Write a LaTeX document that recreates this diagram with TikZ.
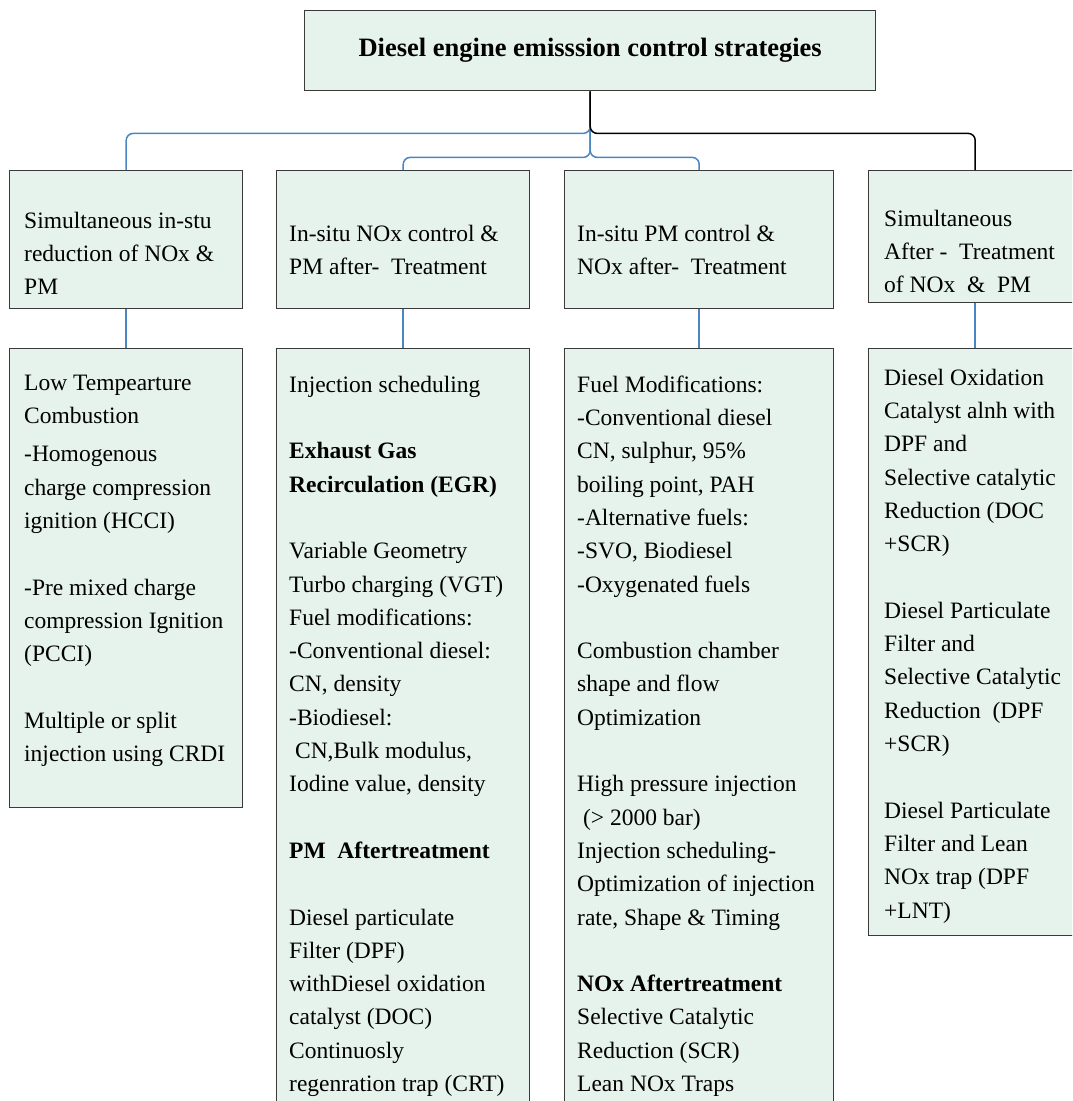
\documentclass[tikz,border=0pt]{standalone}
\usepackage{fontspec}
\setmainfont{Liberation Serif}
\definecolor{boxfill}{HTML}{E6F2EC}
\definecolor{boxline}{HTML}{3A3A3A}
\definecolor{conblue}{HTML}{4A86C0}
\begin{document}
\begin{tikzpicture}[x=1pt,y=-1pt,
  box/.style={draw=boxline, fill=boxfill, line width=1.4pt, rectangle, inner sep=0pt, anchor=north west},
  txt/.style={anchor=north west, align=left, inner sep=0pt, font=\fontsize{23.5}{33.3}\selectfont},
  con/.style={draw=conblue, line width=1.5pt, rounded corners=7pt},
  conk/.style={draw=black, line width=1.5pt, rounded corners=7pt}]
\clip (0,0) rectangle (1072,1101);
% top
\node[box, minimum width=571pt, minimum height=80pt, font=\fontsize{26.5}{30}\selectfont\bfseries] (top) at (304,10) {Diesel engine emisssion control strategies};
% level 1
\node[box, minimum width=233pt, minimum height=138pt] (a1) at (9,170) {};
\node[box, minimum width=253pt, minimum height=138pt] (b1) at (276,170) {};
\node[box, minimum width=269pt, minimum height=138pt] (c1) at (564,170) {};
\node[box, minimum width=213pt, minimum height=132pt] (d1) at (868,170) {};
% level 2
\node[box, minimum width=233pt, minimum height=459pt] (a2) at (9,348) {};
\node[box, minimum width=253pt, minimum height=800pt] (b2) at (276,348) {};
\node[box, minimum width=269pt, minimum height=800pt] (c2) at (564,348) {};
\node[box, minimum width=213pt, minimum height=587pt] (d2) at (868,348) {};
% connectors
\draw[con] (top.south) -- ++(0,42) -| (a1.north);
\draw[con] (top.south) -- ++(0,66) -| (b1.north);
\draw[con] (top.south) -- ++(0,66) -| (c1.north);
\draw[conk] (top.south) -- ++(0,42) -| (d1.north);
\draw[con] (a1.south) -- (a2.north);
\draw[con] (b1.south) -- (b2.north);
\draw[con] (c1.south) -- (c2.north);
\draw[con] (d1.south) -- (d2.north);
% level 1 texts
\node[txt] (ta1) at (24,204.7) {\strut Simultaneous in-stu\\reduction of NOx \&\\PM};
\node[txt] (tb1) at (289,217.7) {\strut In-situ NOx control \&\\PM after-\ \ Treatment};
\node[txt] (tc1) at (577,217.7) {\strut In-situ PM control \&\\NOx after-\ \ Treatment};
\node[txt] (td1) at (884,202.7) {\strut Simultaneous\\After - \ Treatment\\of NOx\ \ \&\ \ PM};
% level 2 texts
\node[txt] (ta2) at (24,366.7) {\strut Low Tempearture\\Combustion\\[5pt]-Homogenous\\charge compression\\ignition (HCCI)\\ \mbox{}\\-Pre mixed charge\\compression Ignition\\(PCCI)\\ \mbox{}\\Multiple or split\\injection using CRDI};
\node[txt] (tb2) at (289,368.7) {\strut Injection scheduling\\ \mbox{}\\
\textbf{Exhaust Gas}\\
\textbf{Recirculation (EGR)}\\ \mbox{}\\
Variable Geometry\\
Turbo charging (VGT)\\
Fuel modifications:\\
-Conventional diesel:\\
CN, density\\
-Biodiesel:\\
\ CN,Bulk modulus,\\
Iodine value, density\\ \mbox{}\\
\textbf{PM\ \ Aftertreatment}\\ \mbox{}\\
Diesel particulate\\
Filter (DPF)\\
withDiesel oxidation\\
catalyst (DOC)\\
Continuosly\\
regenration trap (CRT)};
\node[txt] (tc2) at (577,368.7) {\strut Fuel Modifications:\\
-Conventional diesel\\
CN, sulphur, 95\%\\
boiling point, PAH\\
-Alternative fuels:\\
-SVO, Biodiesel\\
-Oxygenated fuels\\ \mbox{}\\
Combustion chamber\\
shape and flow\\
Optimization\\ \mbox{}\\
High pressure injection\\
\ (> 2000 bar)\\
Injection scheduling-\\
Optimization of injection\\
rate, Shape \& Timing\\ \mbox{}\\
\textbf{NOx Aftertreatment}\\
Selective Catalytic\\
Reduction (SCR)\\
Lean NOx Traps};
\node[txt] (td2) at (884,361.7) {\strut Diesel Oxidation\\Catalyst alnh with\\DPF and\\Selective catalytic\\Reduction (DOC\\+SCR)\\ \mbox{}\\Diesel Particulate\\Filter and\\Selective Catalytic\\Reduction\ \ (DPF\\+SCR)\\ \mbox{}\\Diesel Particulate\\Filter and Lean\\NOx trap (DPF\\+LNT)};
\end{tikzpicture}
\end{document}
